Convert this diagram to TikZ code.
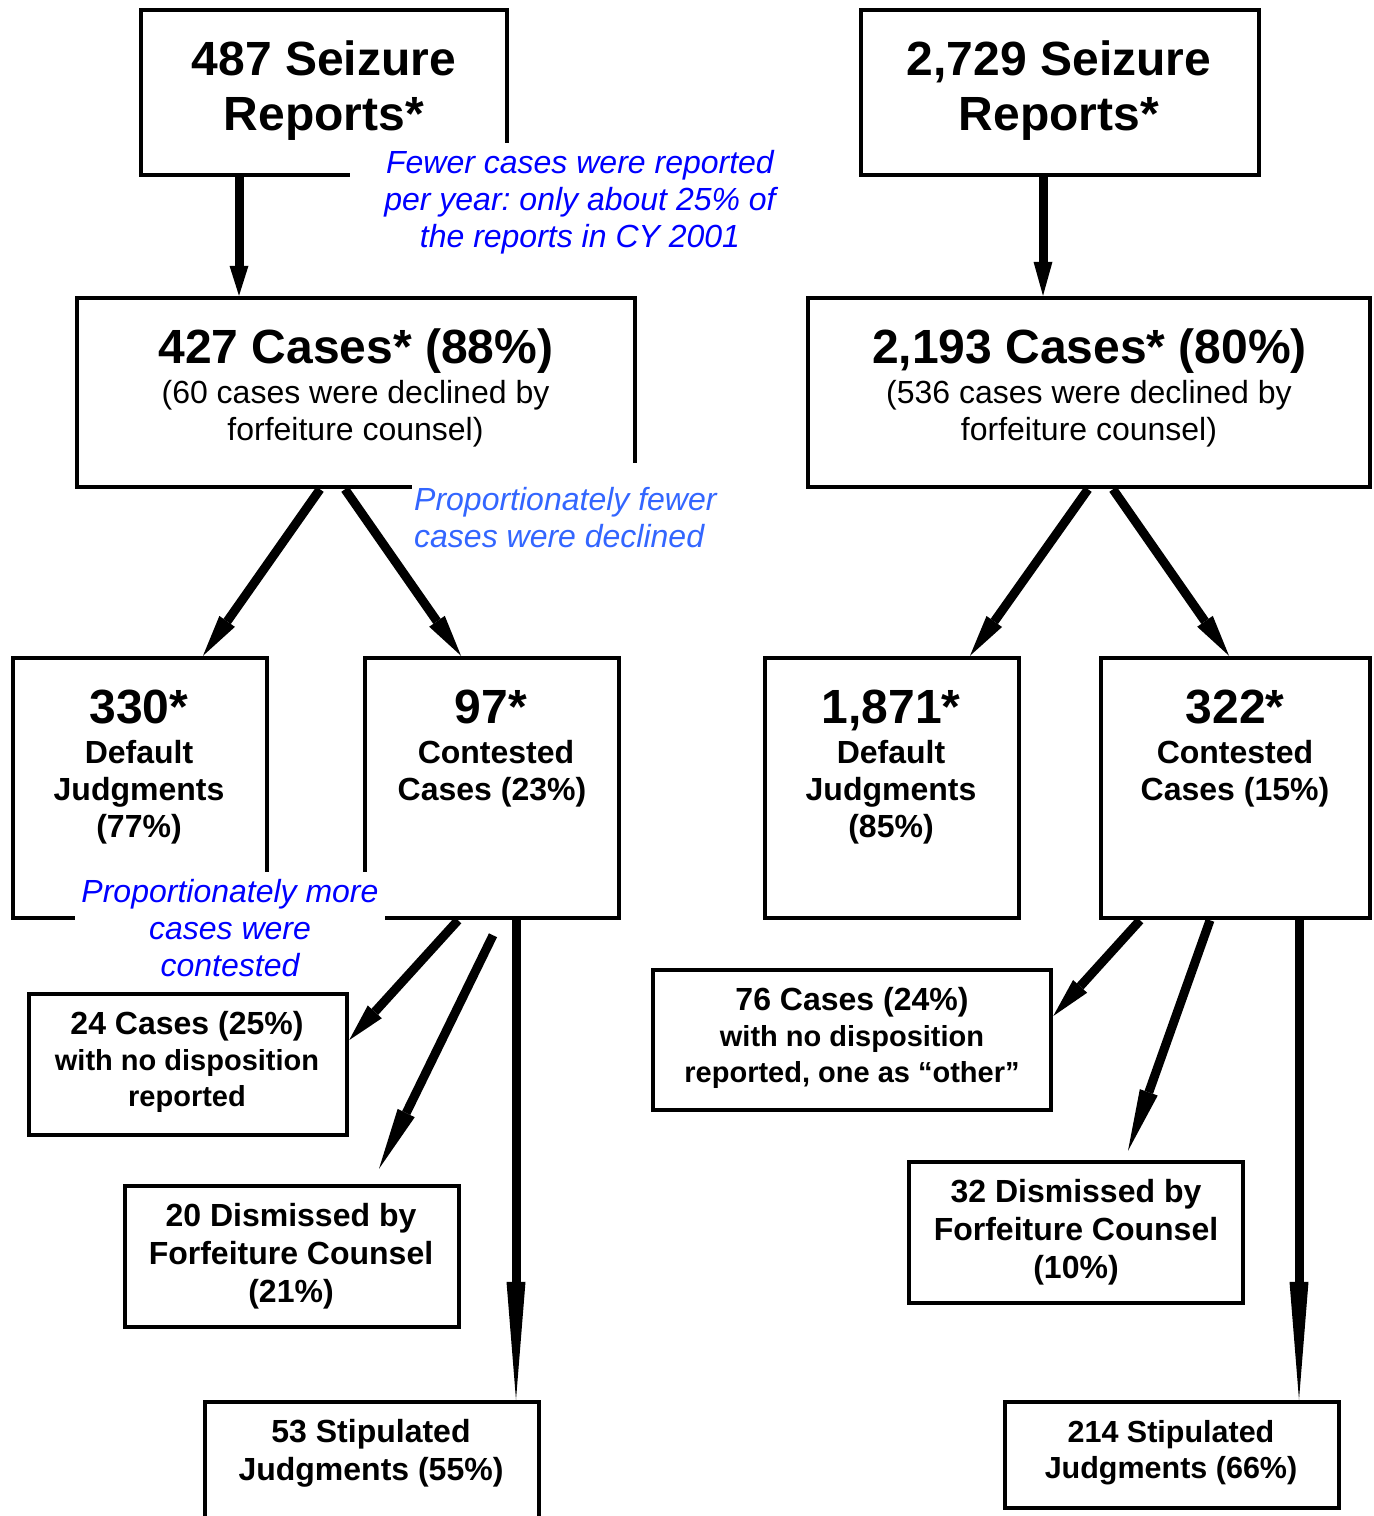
\documentclass[tikz,border=0pt]{standalone}
\usepackage{fontspec}
\setmainfont{Liberation Sans}
\usetikzlibrary{arrows.meta}
\definecolor{annblue}{RGB}{0,0,255}
\definecolor{annlight}{RGB}{51,102,255}
\newcommand\fTitle{\fontsize{48}{55}\selectfont\bfseries}
\newcommand\fBody{\fontsize{32}{37}\selectfont\bfseries}
\newcommand\fBodyT{\fontsize{32}{36}\selectfont\bfseries}
\newcommand\fBodyW{\fontsize{32}{38}\selectfont\bfseries}
\newcommand\fBodyR{\fontsize{30.5}{36}\selectfont\bfseries}
\newcommand\fSmall{\fontsize{29}{36}\selectfont\bfseries}
\newcommand\fSub{\fontsize{32}{37}\selectfont}
\newcommand\fAnn{\fontsize{32}{37}\selectfont\itshape}
\newcommand\firstln{\rule{0pt}{40pt}}
\frenchspacing
\begin{document}
\frenchspacing
\begin{tikzpicture}[x=1pt,y=-1pt,
  box/.style={draw, line width=4.5pt, inner sep=0pt},
  txt/.style={anchor=north, inner sep=0pt, align=center},
  arr/.style={line width=9pt, -{Triangle[length=#1,width=19pt,line width=0pt]}},
  ann/.style={fill=white, inner ysep=0pt, font=\fAnn}]
\useasboundingbox (0,0) rectangle (1374,1516);

% ---------- boxes ----------
\node[box, minimum width=366pt, minimum height=165pt] (a1) at (324,92.5) {};
\node[box, minimum width=398pt, minimum height=165pt] (b1) at (1060,92.5) {};
\node[box, minimum width=558pt, minimum height=189pt] (a2) at (356,392.5) {};
\node[box, minimum width=562pt, minimum height=189pt] (b2) at (1089,392.5) {};
\node[box, minimum width=254pt, minimum height=260pt] (a3) at (140,788) {};
\node[box, minimum width=254pt, minimum height=260pt] (a4) at (492,788) {};
\node[box, minimum width=254pt, minimum height=260pt] (b3) at (892,788) {};
\node[box, minimum width=269pt, minimum height=260pt] (b4) at (1235.5,788) {};
\node[box, minimum width=318pt, minimum height=141pt] (a5) at (188,1064.5) {};
\node[box, minimum width=334pt, minimum height=141pt] (a6) at (292,1256.5) {};
\node[box, minimum width=334pt, minimum height=138pt] (a7) at (372,1471) {};
\node[box, minimum width=398pt, minimum height=140pt] (b5) at (852,1040) {};
\node[box, minimum width=334pt, minimum height=141pt] (b6) at (1076,1232.5) {};
\node[box, minimum width=334pt, minimum height=106pt] (b7) at (1172,1455) {};

% ---------- box texts ----------
\node[txt, font=\fTitle] (ta1) at (324,35) {\firstln 487 Seizure\\Reports*};
\node[txt, font=\fTitle] (tb1) at (1059,35) {\firstln 2,729 Seizure\\Reports*};
\node[txt, font=\fTitle] (ta2) at (356,323) {\firstln 427 Cases* (88\%)};
\node[txt, font=\fSub] (sa2) at (355.5,363.5) {\firstln (60 cases were declined by\\forfeiture counsel)};
\node[txt, font=\fTitle] (tb2) at (1089.5,323) {\firstln 2,193 Cases* (80\%)};
\node[txt, font=\fSub] (sb2) at (1089,363.5) {\firstln (536 cases were declined by\\forfeiture counsel)};
\node[txt, font=\fTitle] (ta3) at (139,683) {\firstln 330*};
\node[txt, font=\fBody] (sa3) at (139,723.5) {\firstln Default\\Judgments\\(77\%)};
\node[txt, font=\fTitle] (ta4) at (491,683) {\firstln 97*};
\node[txt, font=\fBody] (sa4) at (492,723.5) {\firstln \hspace*{8pt}Contested\\Cases (23\%)};
\node[txt, font=\fTitle] (tb3) at (891,683) {\firstln 1,871*};
\node[txt, font=\fBody] (sb3) at (891,723.5) {\firstln Default\\Judgments\\(85\%)};
\node[txt, font=\fTitle] (tb4) at (1235,683) {\firstln 322*};
\node[txt, font=\fBody] (sb4) at (1235,723.5) {\firstln Contested\\Cases (15\%)};
\node[txt, font=\fBodyT] (ta5) at (187,994.5) {\firstln 24 Cases (25\%)\\\fSmall with no disposition\\\fSmall reported};
\node[txt, font=\fBodyW] (ta6) at (291,1186.5) {\firstln 20 Dismissed by\\Forfeiture Counsel\\(21\%)};
\node[txt, font=\fBodyW] (ta7) at (371,1402.5) {\firstln 53 Stipulated\\Judgments (55\%)};
\node[txt, font=\fBodyT] (tb5) at (852,970.5) {\firstln 76 Cases (24\%)\\\fSmall with no disposition\\\fSmall reported, one as “other”};
\node[txt, font=\fBodyW] (tb6) at (1076,1162.5) {\firstln 32 Dismissed by\\Forfeiture Counsel\\(10\%)};
\node[txt, font=\fBodyR] (tb7) at (1171,1402.5) {\firstln 214 Stipulated\\Judgments (66\%)};

% ---------- annotations ----------
\node[ann, text=annblue, anchor=north, align=center, inner xsep=34pt] (n1) at (580,143)
  {\rule{0pt}{30.5pt}Fewer cases were reported\\per year: only about 25\% of\\the reports in CY 2001};
\node[ann, text=annlight, anchor=north west, align=left, inner xsep=2pt] (n2) at (412,463)
  {\rule{0pt}{47.5pt}Proportionately fewer\\cases were declined};
\node[ann, text=annblue, anchor=north, align=center, inner xsep=6.5pt] (n3) at (230,872)
  {\rule{0pt}{30.5pt}Proportionately more\\cases were\\contested};

% ---------- arrows ----------
\draw[arr=30pt] ([xshift=-85pt]a1.south) -- ([xshift=-117pt]a2.north);
\draw[arr=34pt] ([xshift=-17pt]b1.south) -- ([xshift=-46pt]b2.north);
\draw[arr=42pt] ([xshift=-36pt]a2.south) -- ([xshift=63pt]a3.north);
\draw[arr=42pt] ([xshift=-11pt]a2.south) -- ([xshift=-31pt]a4.north);
\draw[arr=42pt] ([xshift=-1pt]b2.south) -- ([xshift=78pt]b3.north);
\draw[arr=42pt] ([xshift=24pt]b2.south) -- ([xshift=-6.5pt]b4.north);
\draw[arr=38pt] ([xshift=-34pt]a4.south) -- ([yshift=24.5pt]a5.east);
\draw[arr=62pt] ([xshift=1pt,yshift=-15pt]a4.south) -- ([xshift=87pt,yshift=15pt]a6.north);
\draw[arr=118pt] ([xshift=24pt]a4.south) -- ([xshift=144pt]a7.north);
\draw[arr=40pt] ([xshift=-95.5pt]b4.south) -- ([yshift=24pt]b5.east);
\draw[arr=62pt] ([xshift=-25.5pt]b4.south) -- ([xshift=52pt,yshift=9pt]b6.north);
\draw[arr=118pt] ([xshift=63.5pt]b4.south) -- ([xshift=127pt]b7.north);
\end{tikzpicture}
\end{document}
